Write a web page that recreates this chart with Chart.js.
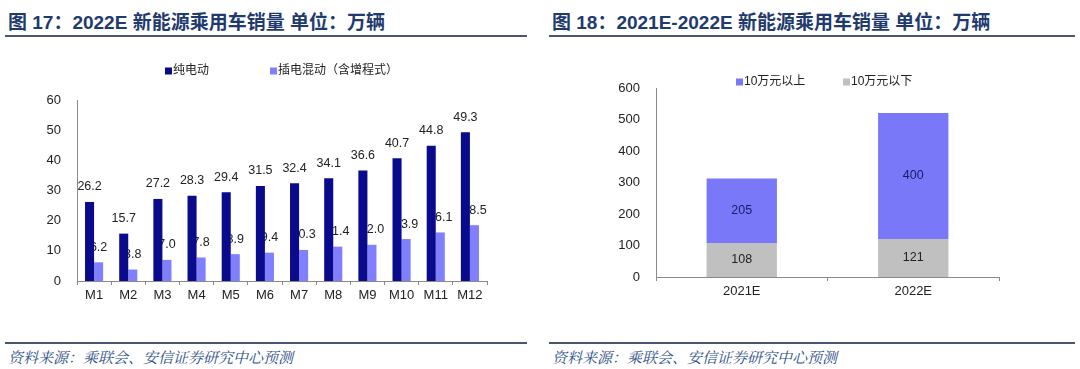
<!DOCTYPE html>
<html>
<head>
<meta charset="utf-8">
<script src="https://cdn.jsdelivr.net/npm/chart.js@4"></script>
<style>
  body { margin: 0; background: #fff; width: 1080px; height: 369px; position: relative; overflow: hidden; }
  .title { position: absolute; top: 7px; font: bold 19px 'Liberation Sans', 'Noto Sans CJK SC', sans-serif; color: #1f3a6e; white-space: nowrap; }
  .rule { position: absolute; height: 2px; background: #4a5670; }
  .source { position: absolute; top: 346px; font: italic 15px 'Noto Serif CJK SC', 'Noto Sans CJK SC', serif; color: #2e4f8a; white-space: nowrap; }
  .box { position: absolute; top: 40px; width: 540px; height: 280px; }
</style>
</head>
<body>
<div class="title" style="left:8px">图 17：2022E 新能源乘用车销量 单位：万辆</div>
<div class="title" style="left:552px">图 18：2021E-2022E 新能源乘用车销量 单位：万辆</div>
<div class="rule" style="left:5px; width:522px; top:35px"></div>
<div class="rule" style="left:549px; width:526px; top:35px"></div>
<div class="rule" style="left:5px; width:522px; top:342px"></div>
<div class="rule" style="left:549px; width:526px; top:342px"></div>
<div class="source" style="left:8px">资料来源：乘联会、安信证券研究中心预测</div>
<div class="source" style="left:552px">资料来源：乘联会、安信证券研究中心预测</div>

<div class="box" style="left:0px"><canvas id="monthChart"></canvas></div>
<div class="box" style="left:540px"><canvas id="yearChart"></canvas></div>

<script>
// Figure 17 data
const months = ['M1', 'M2', 'M3', 'M4', 'M5', 'M6', 'M7', 'M8', 'M9', 'M10', 'M11', 'M12'];
const bevSales = [26.2, 15.7, 27.2, 28.3, 29.4, 31.5, 32.4, 34.1, 36.6, 40.7, 44.8, 49.3];
const phevSales = [6.2, 3.8, 7.0, 7.8, 8.9, 9.4, 10.3, 11.4, 12.0, 13.9, 16.1, 18.5];

// Figure 18 data
const years = ['2021E', '2022E'];
const below10w = [108, 121];
const above10w = [205, 400];

const FONT = "'Liberation Sans', 'Noto Sans CJK SC', sans-serif";
const TEXT = '#222';
const AXIS = '#8a8a8a';

// simple legend drawn on the canvas; opts.order lists dataset indexes left to right
const boxLegend = {
    id: 'boxLegend',
    afterDraw(chart, args, opts) {
        const ctx = chart.ctx;
        ctx.save();
        ctx.font = '12px ' + FONT;
        ctx.textBaseline = 'middle';
        ctx.textAlign = 'left';
        opts.order.forEach((idx, i) => {
            const ds = chart.data.datasets[idx];
            const x = opts.xs[i];
            ctx.fillStyle = ds.backgroundColor;
            ctx.fillRect(x, opts.y - 3.5, 7, 7);
            ctx.fillStyle = TEXT;
            ctx.fillText(ds.label, x + 8, opts.y);
        });
        ctx.restore();
    }
};

// value labels; "under" datasets get drawn before the bars so neighbours can cover them
function drawLabels(chart, opts, under) {
    const ctx = chart.ctx;
    ctx.save();
    ctx.font = '12.5px ' + FONT;
    ctx.textAlign = 'center';
    ctx.textBaseline = 'middle';
    chart.data.datasets.forEach((ds, i) => {
        const cfg = opts.sets[i];
        if (!cfg || !!cfg.under !== under) return;
        const meta = chart.getDatasetMeta(i);
        meta.data.forEach((bar, j) => {
            const y = cfg.inside ? (bar.y + bar.base) / 2 : bar.y - 15;
            ctx.fillStyle = cfg.color;
            ctx.fillText(ds.data[j].toFixed(cfg.digits), bar.x, y);
        });
    });
    ctx.restore();
}

const valueLabels = {
    id: 'valueLabels',
    beforeDatasetsDraw(chart, args, opts) { drawLabels(chart, opts, true); },
    afterDatasetsDraw(chart, args, opts) { drawLabels(chart, opts, false); }
};

function axes(yMax, yStep, yWidth, stacked) {
    return {
        x: {
            stacked: stacked,
            grid: { drawOnChartArea: false, drawTicks: true, tickLength: 4, color: AXIS },
            border: { color: AXIS },
            ticks: { color: TEXT, font: { size: 13, family: FONT }, padding: 3 },
            afterFit(scale) { scale.height = 30; }
        },
        y: {
            stacked: stacked,
            min: 0,
            max: yMax,
            grid: { display: false },
            border: { color: AXIS },
            ticks: { stepSize: yStep, color: TEXT, font: { size: 13, family: FONT }, padding: 8 },
            afterFit(scale) { scale.width = yWidth; }
        }
    };
}

new Chart(document.getElementById('monthChart'), {
    type: 'bar',
    data: {
        labels: months,
        datasets: [
            { label: '纯电动', data: bevSales, backgroundColor: '#0a0a8c', categoryPercentage: 0.53, barPercentage: 1 },
            { label: '插电混动（含增程式）', data: phevSales, backgroundColor: '#8080ff', categoryPercentage: 0.53, barPercentage: 1 }
        ]
    },
    options: {
        responsive: true,
        maintainAspectRatio: false,
        animation: false,
        layout: { padding: { top: 60, right: 53, bottom: 9, left: 0 } },
        scales: axes(60, 10, 77, false),
        plugins: {
            legend: { display: false },
            tooltip: { enabled: false },
            boxLegend: { y: 31, xs: [165, 270], order: [0, 1] },
            valueLabels: { sets: [
                { color: TEXT, digits: 1 },
                { color: TEXT, digits: 1, under: true }
            ] }
        }
    },
    plugins: [boxLegend, valueLabels]
});

new Chart(document.getElementById('yearChart'), {
    type: 'bar',
    data: {
        labels: years,
        datasets: [
            { label: '10万元以下', data: below10w, backgroundColor: '#c0c0c0', categoryPercentage: 0.41, barPercentage: 1, stack: 's' },
            { label: '10万元以上', data: above10w, backgroundColor: '#7878f8', categoryPercentage: 0.41, barPercentage: 1, stack: 's' }
        ]
    },
    options: {
        responsive: true,
        maintainAspectRatio: false,
        animation: false,
        layout: { padding: { top: 48, right: 81, bottom: 13, left: 0 } },
        scales: axes(600, 100, 116, true),
        plugins: {
            legend: { display: false },
            tooltip: { enabled: false },
            boxLegend: { y: 42, xs: [196, 303], order: [1, 0] },
            valueLabels: { sets: [
                { color: TEXT, digits: 0, inside: true },
                { color: '#1a1a6a', digits: 0, inside: true }
            ] }
        }
    },
    plugins: [boxLegend, valueLabels]
});
</script>
</body>
</html>
